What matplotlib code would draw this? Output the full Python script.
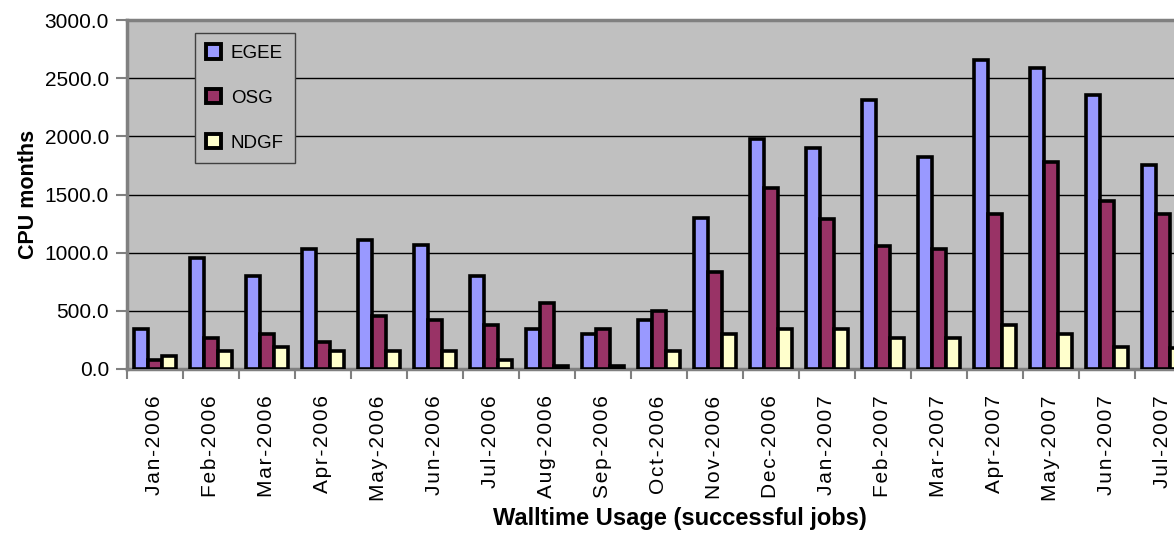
import matplotlib.pyplot as plt
from matplotlib.patches import Patch
import numpy as np

months = ["Jan-2006", "Feb-2006", "Mar-2006", "Apr-2006", "May-2006", "Jun-2006",
          "Jul-2006", "Aug-2006", "Sep-2006", "Oct-2006", "Nov-2006", "Dec-2006",
          "Jan-2007", "Feb-2007", "Mar-2007", "Apr-2007", "May-2007", "Jun-2007",
          "Jul-2007"]
egee = [340, 950, 800, 1030, 1110, 1065, 800, 340, 305, 420, 1295, 1975,
        1900, 2315, 1825, 2655, 2585, 2355, 1750]
osg = [80, 265, 305, 230, 455, 420, 380, 570, 340, 495, 835, 1555,
       1290, 1060, 1030, 1330, 1780, 1440, 1330]
ndgf = [110, 155, 190, 155, 155, 155, 75, 30, 30, 155, 305, 340,
        340, 265, 265, 380, 305, 190, 180]

series = [("EGEE", egee, "#9999FF"), ("OSG", osg, "#993366"), ("NDGF", ndgf, "#FFFFCC")]

plt.rcParams['font.family'] = ['Liberation Sans', 'DejaVu Sans']

fig = plt.figure(figsize=(11.74, 5.33), dpi=100)
# plot area runs past the right edge of the picture, as in the original
ax = fig.add_axes([127 / 1174, 1 - 369 / 533, 1064 / 1174, 349 / 533])
ax.set_facecolor("#C0C0C0")

x = np.arange(len(months))
w = 0.25
for i, (name, vals, col) in enumerate(series):
    ax.bar(x + (i - 1) * w, vals, width=w, color=col, edgecolor="black",
           linewidth=2.6, label=name, zorder=3)

ax.set_xlim(-0.5, len(months) - 0.5)
ax.set_ylim(0, 3000)
ax.set_yticks(np.arange(0, 3001, 500))
ax.set_yticklabels([f"{v:.1f}" for v in np.arange(0, 3001, 500)], fontsize=15)
ax.grid(axis="y", color="black", linewidth=1, zorder=1)

# Excel-style wide letter spacing on the month labels
spaced = ["\u200a".join(m) for m in months]
ax.set_xticks(x)
ax.set_xticklabels(spaced, rotation=90, fontsize=15)
ax.tick_params(axis="x", length=0, pad=19)
ax.set_xticks(np.arange(-0.5, len(months)), minor=True)
ax.tick_params(axis="x", which="minor", length=7, width=1.5, color="#808080", direction="out")
ax.tick_params(axis="y", length=8, width=1.5, color="#808080", direction="out", pad=5)

for side in ["top", "left", "bottom", "right"]:
    ax.spines[side].set_color("#808080")
    ax.spines[side].set_linewidth(2.5)

ax.set_ylabel("CPU months", fontsize=15.5, fontweight="bold", labelpad=4)
fig.text(680 / 1174, 1 - 519 / 533, "Walltime Usage (successful jobs)", fontsize=17,
         fontweight="bold", ha="center", va="center")

handles = [Patch(facecolor=c, edgecolor="black", linewidth=2.8, label=n) for n, _, c in series]
leg = ax.legend(handles=handles, loc="upper left",
                bbox_to_anchor=(195 / 1174, 1 - 33 / 533), bbox_transform=fig.transFigure,
                borderaxespad=0, fontsize=13.5, handlelength=0.8, handleheight=0.8,
                labelspacing=1.45, handletextpad=0.5, borderpad=0.6, frameon=True,
                fancybox=False, framealpha=1)
leg.get_frame().set_facecolor("#C0C0C0")
leg.get_frame().set_edgecolor("#404040")
leg.get_frame().set_linewidth(1)
leg.set_zorder(5)

fig.savefig("out.png", dpi=100)
